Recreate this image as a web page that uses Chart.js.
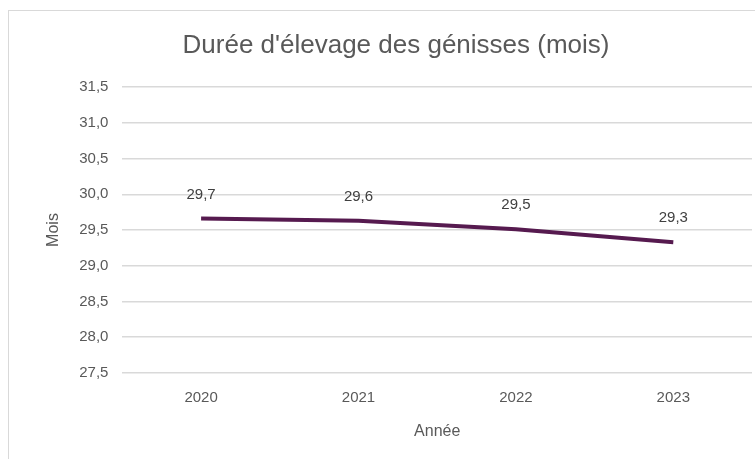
<!DOCTYPE html>
<html>
<head>
<meta charset="utf-8">
<script src="https://cdn.jsdelivr.net/npm/chart.js@4"></script>
<style>
  html, body { margin: 0; padding: 0; background: #fff; overflow: hidden; }
  #frame { position: absolute; left: 8px; top: 10px; width: 800px; height: 500px; border: 1px solid #d9d9d9; }
  #wrap { position: absolute; left: 0; top: 0; width: 755px; height: 459px; }
</style>
</head>
<body>
<div id="frame"></div>
<div id="wrap"><canvas id="myChart"></canvas></div>
<script>
const annees = ["2020", "2021", "2022", "2023"];
const duree = [29.66, 29.63, 29.51, 29.33];
const etiquettes = ["29,7", "29,6", "29,5", "29,3"];

const police = "'Liberation Sans', sans-serif";

// petites étiquettes au-dessus des points
const labelsPlugin = {
    id: "valeurs",
    afterDatasetsDraw(chart) {
        const ctx = chart.ctx;
        const meta = chart.getDatasetMeta(0);
        ctx.save();
        ctx.font = "15px 'Liberation Sans', sans-serif";
        ctx.fillStyle = "#404040";
        ctx.textAlign = "center";
        ctx.textBaseline = "middle";
        meta.data.forEach((pt, i) => {
            ctx.fillText(etiquettes[i], pt.x, pt.y - 24);
        });
        ctx.restore();
    }
};

const config = {
    type: "line",
    data: {
        labels: annees,
        datasets: [{
            label: "Durée",
            data: duree,
            borderColor: "#561a4f",
            borderWidth: 4,
            pointRadius: 0,
            tension: 0
        }]
    },
    options: {
        responsive: true,
        maintainAspectRatio: false,
        animation: false,
        layout: { padding: { top: 30, left: 40, right: 3, bottom: 14 } },
        plugins: {
            legend: { display: false },
            tooltip: { enabled: false },
            title: {
                display: true,
                text: "Durée d'élevage des génisses (mois)",
                color: "#595959",
                font: { family: police, size: 26, weight: "normal" },
                padding: { top: 0, bottom: 26 }
            }
        },
        scales: {
            x: {
                offset: true,
                grid: { display: false },
                border: { display: false },
                ticks: { color: "#595959", font: { family: police, size: 15 }, padding: 8 },
                title: { display: true, text: "Année", color: "#595959", font: { family: police, size: 16 }, padding: { top: 7 } }
            },
            y: {
                min: 27.5,
                max: 31.5,
                grid: { color: "#d9d9d9", lineWidth: 1.5, drawTicks: false },
                border: { display: false },
                ticks: {
                    stepSize: 0.5,
                    color: "#595959",
                    font: { family: police, size: 15 },
                    padding: 14,
                    callback: (v) => v.toFixed(1).replace(".", ",")
                },
                title: { display: true, text: "Mois", color: "#595959", font: { family: police, size: 16 }, padding: { bottom: 2 } }
            }
        }
    },
    plugins: [labelsPlugin]
};

new Chart(document.getElementById("myChart"), config);
</script>
</body>
</html>
